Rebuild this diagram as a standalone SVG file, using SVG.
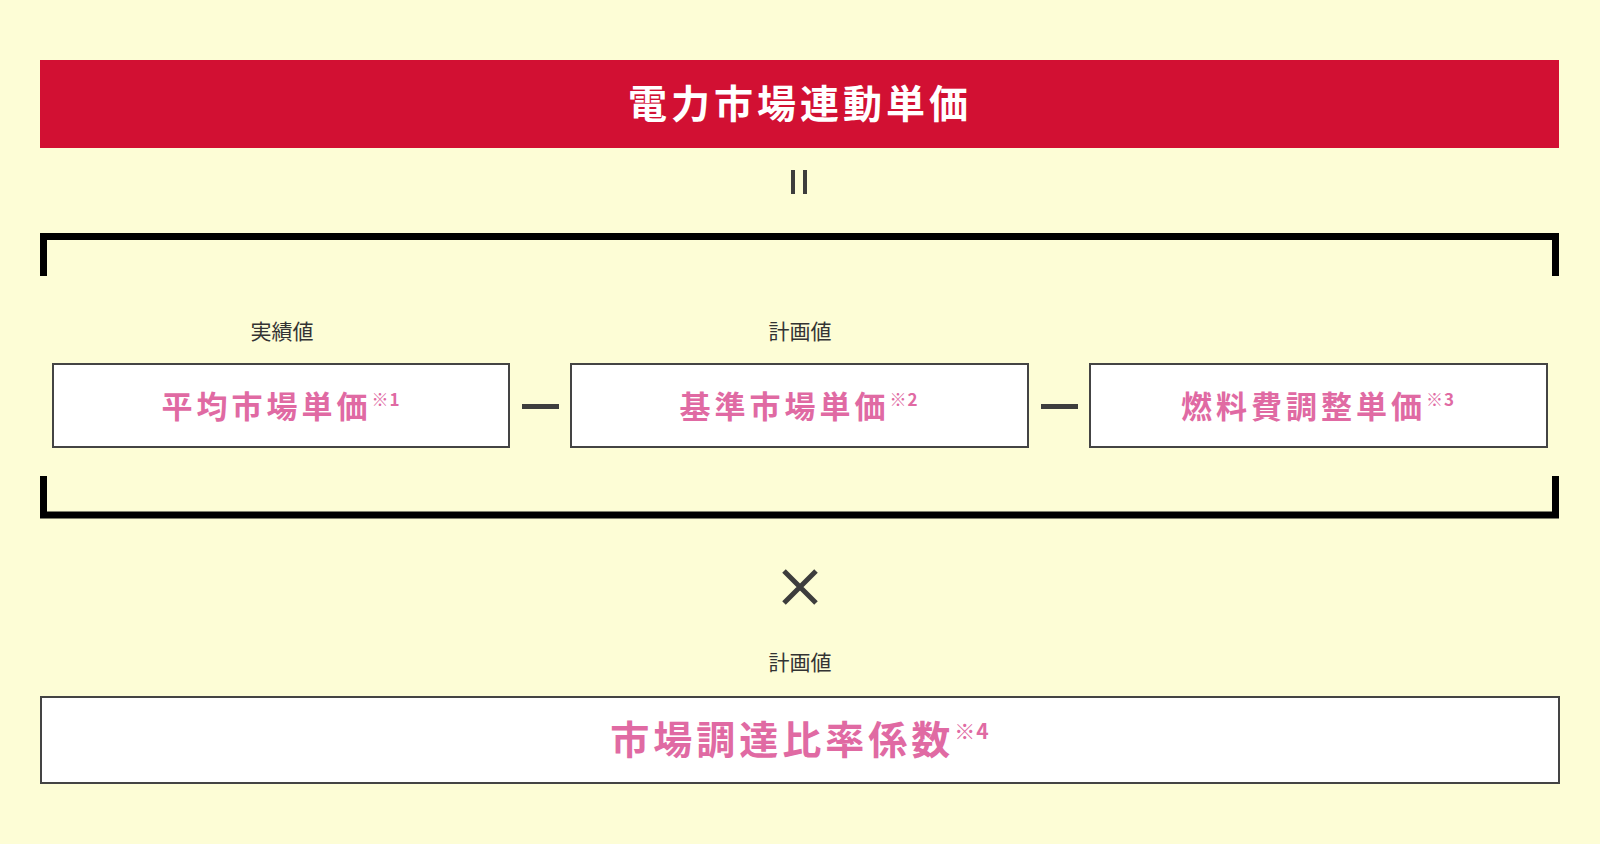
<svg xmlns="http://www.w3.org/2000/svg" width="1600" height="844" viewBox="0 0 1600 844">
<style>
.jp{font-family:"Noto Sans CJK JP","Noto Sans",sans-serif}
.box{fill:#fff;stroke:#444;stroke-width:2}
.pk{fill:#e06aa3;font-weight:bold;font-size:31px;letter-spacing:4px}
.sup{font-size:17px;letter-spacing:1px}
.lbl{fill:#333;font-size:21px}
.op{fill:#3d3d3d}
</style>
<rect width="1600" height="844" fill="#fdfdd6"/>
<g id="title">
<rect x="40" y="60" width="1519" height="88" fill="#d21033"/>
<text class="jp" x="800" y="118" text-anchor="middle" fill="#fff" font-size="39" font-weight="bold" letter-spacing="4">電力市場連動単価</text>
</g>
<g id="equals" class="op"><rect x="791" y="170" width="4" height="24"/><rect x="803" y="170" width="4" height="24"/></g>
<g id="bracket" fill="none" stroke="#000" stroke-width="7">
<path d="M43.5 276 V236.5 H1555.5 V276"/>
<path d="M43.5 476 V515 H1555.5 V476"/>
</g>
<text class="jp lbl" x="282" y="339" text-anchor="middle">実績値</text>
<text class="jp lbl" x="800" y="339" text-anchor="middle">計画値</text>
<g id="n1"><rect class="box" x="53" y="364" width="456" height="83"/>
<text class="jp pk" x="281" y="418" text-anchor="middle">平均市場単価<tspan class="sup" dy="-12">※1</tspan></text></g>
<g id="n2"><rect class="box" x="571" y="364" width="457" height="83"/>
<text class="jp pk" x="799" y="418" text-anchor="middle">基準市場単価<tspan class="sup" dy="-12">※2</tspan></text></g>
<g id="n3"><rect class="box" x="1090" y="364" width="457" height="83"/>
<text class="jp pk" x="1318" y="418" text-anchor="middle">燃料費調整単価<tspan class="sup" dy="-12">※3</tspan></text></g>
<g id="minus" class="op"><rect x="522" y="404" width="37" height="5"/><rect x="1041" y="404" width="37" height="5"/></g>
<g id="times" stroke="#3d3d3d" stroke-width="5"><path d="M784 571 L816 603 M816 571 L784 603"/></g>
<text class="jp lbl" x="800" y="670" text-anchor="middle">計画値</text>
<g id="n4"><rect class="box" x="41" y="697" width="1518" height="86"/>
<text class="jp pk" x="800" y="754" text-anchor="middle" font-size="39" style="font-size:39px">市場調達比率係数<tspan class="sup" dy="-15" style="font-size:21px">※4</tspan></text></g>
</svg>
